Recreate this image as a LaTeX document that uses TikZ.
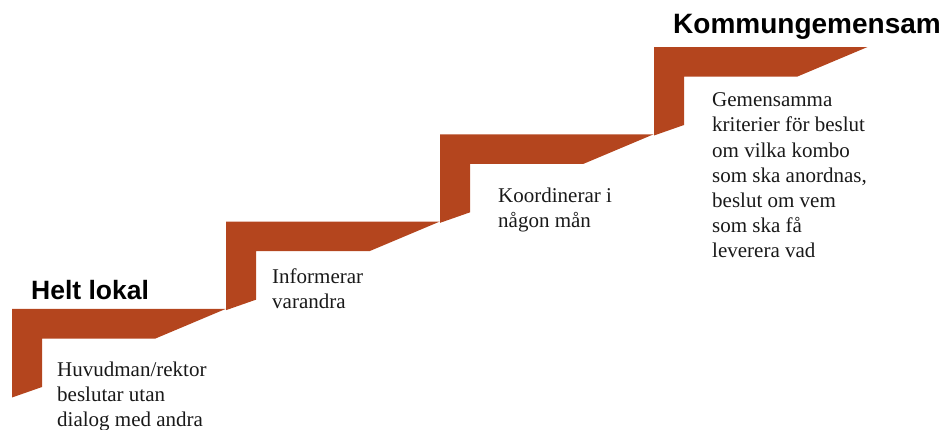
\documentclass[tikz,border=0pt]{standalone}
\usepackage{fontspec}
\setmainfont{Liberation Serif}
\newfontfamily\headfont{Liberation Sans}
\definecolor{stepcol}{RGB}{180,69,30}
\definecolor{txtcol}{RGB}{25,25,25}
\begin{document}
\begin{tikzpicture}[x=1pt,y=-1pt,
  stepfill/.style={fill=stepcol},
  heading/.style={anchor=base west,inner sep=0pt,font=\headfont\bfseries},
  body/.style={anchor=base west,inner sep=0pt,align=left,text=txtcol,font=\fontsize{21}{25.2}\selectfont}]
\useasboundingbox (0,0) rectangle (945,430);
\foreach \i in {0,1,2,3}{
  \fill[stepfill,shift={(214*\i,-87.33*\i)}]
    (12,309) -- (225.5,309) -- (155.5,338.5) -- (42,338.5) -- (42,387) -- (12,397.5) -- cycle;
}
\node[heading,font=\headfont\bfseries\fontsize{26.5}{30}\selectfont] (helt) at (31,300) {Helt lokal};
\node[heading,font=\headfont\bfseries\fontsize{28}{32}\selectfont] (komm) at (673,33.3) {Kommungemensam};
\node[body,font=\fontsize{21}{24.6}\selectfont] (t1) at (57,426) {Huvudman/rektor\\beslutar utan\\dialog med andra};
\node[body] (t2) at (272,308.3) {Informerar\\varandra};
\node[body] (t3) at (498,227.3) {Koordinerar i\\någon mån};
\node[body] (t4) at (712,258) {Gemensamma\\kriterier för beslut\\om vilka kombo\\som ska anordnas,\\beslut om vem\\som ska få\\leverera vad};
\end{tikzpicture}
\end{document}
